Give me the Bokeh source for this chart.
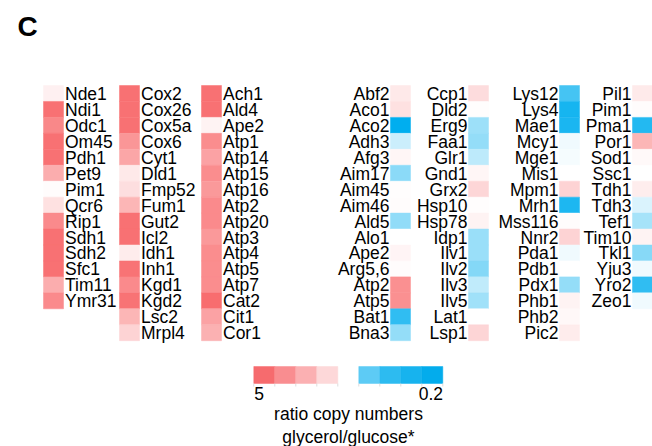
import numpy as np
from bokeh.plotting import figure
from bokeh.models import ColumnDataSource, Range1d
from bokeh.core.properties import value
from bokeh.embed import file_html
from bokeh.resources import INLINE

# ---------------- data: ratio copy numbers glycerol/glucose ----------------
col1_genes = ["Nde1", "Ndi1", "Odc1", "Om45", "Pdh1", "Pet9", "Pim1", "Qcr6",
              "Rip1", "Sdh1", "Sdh2", "Sfc1", "Tim11", "Ymr31"]
col1_ratio = [1.17, 4.6, 3.6, 4.6, 4.6, 2.4, 1.03, 1.38, 3.5, 4.6, 4.6, 4.6, 2.4, 3.5]

col2_genes = ["Cox2", "Cox26", "Cox5a", "Cox6", "Cyt1", "Dld1", "Fmp52", "Fum1",
              "Gut2", "Icl2", "Idh1", "Inh1", "Kgd1", "Kgd2", "Lsc2", "Mrpl4"]
col2_ratio = [4.6, 4.6, 4.6, 3.1, 2.6, 1.27, 1.42, 2.2, 4.6, 4.6, 1.23, 4.5, 3.5, 4.5, 2.2, 1.6]

col3_genes = ["Ach1", "Ald4", "Ape2", "Atp1", "Atp14", "Atp15", "Atp16", "Atp2",
              "Atp20", "Atp3", "Atp4", "Atp5", "Atp7", "Cat2", "Cit1", "Cor1"]
col3_ratio = [4.6, 4.6, 1.14, 3.4, 2.7, 3.4, 3.0, 3.5, 3.5, 3.0, 3.4, 3.4, 3.4, 4.8, 2.7, 2.3]

col4_genes = ["Abf2", "Aco1", "Aco2", "Adh3", "Afg3", "Aim17", "Aim45", "Aim46",
              "Ald5", "Alo1", "Ape2", "Arg5,6", "Atp2", "Atp5", "Bat1", "Bna3"]
col4_ratio = [1.27, 1.38, 0.2, 0.72, 1.1, 0.48, 1.02, 1.03, 0.5, 1.0, 1.12, 1.03,
              3.3, 3.3, 0.27, 0.51]

col5_genes = ["Ccp1", "Dld2", "Erg9", "Faa1", "Glr1", "Gnd1", "Grx2", "Hsp10",
              "Hsp78", "Idp1", "Ilv1", "Ilv2", "Ilv3", "Ilv5", "Lat1", "Lsp1"]
col5_ratio = [1.45, 1.02, 0.54, 0.51, 0.66, 1.1, 1.55, 1.02, 1.14, 0.53, 0.53, 0.46,
              0.67, 0.55, 1.0, 1.57]

col6_genes = ["Lys12", "Lys4", "Mae1", "Mcy1", "Mge1", "Mis1", "Mpm1", "Mrh1",
              "Mss116", "Nnr2", "Pda1", "Pdb1", "Pdx1", "Phb1", "Phb2", "Pic2"]
col6_ratio = [0.31, 0.23, 0.235, 0.91, 0.94, 1.0, 1.6, 0.24, 1.03, 1.6, 0.91, 1.0,
              0.51, 1.14, 1.08, 1.23]

col7_genes = ["Pil1", "Pim1", "Pma1", "Por1", "Sod1", "Ssc1", "Tdh1", "Tdh3",
              "Tef1", "Tim10", "Tkl1", "Yju3", "Yro2", "Zeo1"]
col7_ratio = [1.25, 1.03, 0.25, 2.2, 1.07, 1.0, 1.21, 0.79, 0.57, 1.14, 0.47, 0.91,
              0.27, 0.91]

legend_colors = ["#F66B6E", "#F98D90", "#FBB0B2", "#FDD8D9",
                 "#5DCBF5", "#2DBBF0", "#17B3EE", "#03ACEC"]
legend_low_label = "5"
legend_high_label = "0.2"
legend_title = ["ratio copy numbers", "glycerol/glucose*"]
panel_label = "C"

# ---------------- colour scale ----------------
RED = np.array([248, 105, 107])
BLUE = np.array([0, 174, 239])
WHITE = np.array([255, 255, 255])


def ratio_color(r):
    t = np.clip(np.log(r) / np.log(5.0), -1, 1)
    target = RED if t >= 0 else BLUE
    c = WHITE + abs(t) * (target - WHITE)
    c = np.clip(np.round(c), 0, 255).astype(int)
    return "#%02X%02X%02X" % tuple(c)


# ---------------- figure ----------------
W, H = 652, 446
p = figure(width=W, height=H, output_backend="svg", toolbar_location=None,
           x_range=Range1d(0, W), y_range=Range1d(H, 0),
           min_border=0, outline_line_color=None, background_fill_color="white",
           border_fill_color="white")
p.axis.visible = False
p.xgrid.visible = False
p.ygrid.visible = False

FONT = value("Liberation Sans")
FS = value("17.5px")
TOP = 85.0
ROW = 15.95
CW = 20.0

# (genes, ratios, cell_left, label_side)
columns = [
    (col1_genes, col1_ratio, 43, "right"),
    (col2_genes, col2_ratio, 119, "right"),
    (col3_genes, col3_ratio, 201, "right"),
    (col4_genes, col4_ratio, 390, "left"),
    (col5_genes, col5_ratio, 468, "left"),
    (col6_genes, col6_ratio, 559, "left"),
    (col7_genes, col7_ratio, 632, "left"),
]

for genes, ratios, left, side in columns:
    n = len(genes)
    tops = TOP + ROW * np.arange(n)
    src = ColumnDataSource(dict(
        left=[left] * n, right=[left + CW] * n,
        top=list(tops), bottom=list(tops + ROW),
        color=[ratio_color(r) for r in ratios],
        ymid=list(tops + ROW / 2 + 0.5),
        name=genes,
    ))
    p.quad(left="left", right="right", top="top", bottom="bottom",
           fill_color="color", line_color="color", line_width=0.5, source=src)
    if side == "right":
        tx = left + CW + 1.5
        align = "left"
    else:
        tx = left - 1.0
        align = "right"
    p.text(x=tx, y="ymid", text="name", source=src, text_font=FONT,
           text_font_size=FS, text_align=align, text_baseline="middle",
           text_color="black")

# ---------------- legend ----------------
seg_left = [253.3, 274.3, 295.3, 316.3, 358.3, 379.3, 400.3, 421.3]
seg_w = 21.0
lsrc = ColumnDataSource(dict(left=seg_left, right=[s + seg_w for s in seg_left],
                             top=[366] * 8, bottom=[383] * 8, color=legend_colors))
p.quad(left="left", right="right", top="top", bottom="bottom", fill_color="color",
       line_color="color", line_width=0.5, source=lsrc)
tick_x = [253.3, 274.3, 295.3, 316.3, 337.3, 358.3, 379.3, 400.3, 421.3, 442.3]
p.segment(x0=tick_x, y0=[383] * 10, x1=tick_x, y1=[386] * 10,
          line_color="#DDDDDD", line_width=1)
p.text(x=[258.5], y=[393], text=[legend_low_label], text_font=FONT, text_font_size=FS,
       text_align="center", text_baseline="middle", text_color="black")
p.text(x=[442.5], y=[393], text=[legend_high_label], text_font=FONT, text_font_size=FS,
       text_align="right", text_baseline="middle", text_color="black")
p.text(x=[348, 348], y=[413, 436], text=legend_title, text_font=FONT,
       text_font_size=FS, text_align="center", text_baseline="middle",
       text_color="black")

# panel label
p.text(x=[17], y=[26], text=[panel_label], text_font=FONT, text_font_size=value("28px"),
       text_font_style="bold", text_align="left", text_baseline="middle",
       text_color="black")

open("out.html", "w").write(file_html(p, INLINE))
